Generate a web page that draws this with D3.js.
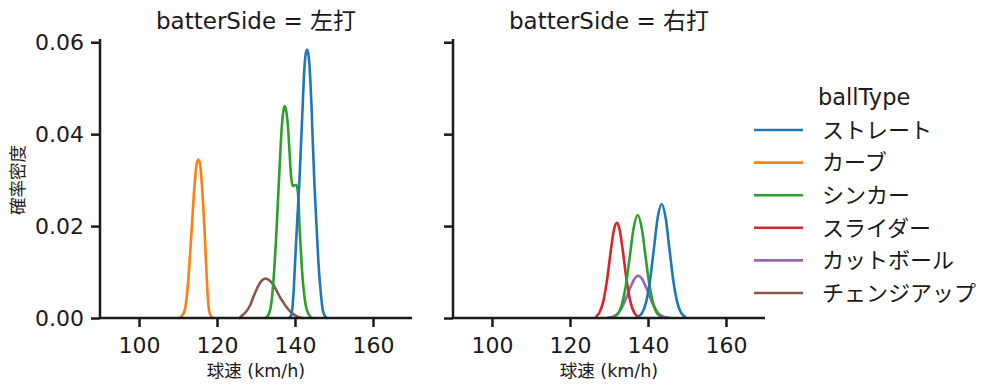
<!DOCTYPE html>
<html><head><meta charset="utf-8">
<script src="https://cdn.jsdelivr.net/npm/d3@7"></script>
<style>
html,body{margin:0;padding:0;background:#fff;}
svg text{font-family:"DejaVu Sans","Noto Sans CJK JP",sans-serif;fill:#1a1a1a;}
</style></head>
<body><svg id="c" width="999" height="391"></svg>
<script>
// ---- data (speed km/h, density) ----
const categories = ["ストレート","カーブ","シンカー","スライダー","カットボール","チェンジアップ"];
const colors = ["#1f77b4","#ff7f0e","#2ca02c","#d62728","#9467bd","#8c564b"];
const panels = ["左打","右打"];
const xTicks = [100,120,140,160];
const yTicks = [0,0.02,0.04,0.06];

const leftStraight = [[138.5,0],[139.08,0.0007],[139.67,0.0061],[140.05,0.0126],[140.51,0.0202],[141.08,0.0289],[141.59,0.0387],[141.97,0.0463],[142.31,0.0528],[142.67,0.0570],[143.08,0.0584],[143.49,0.0570],[143.87,0.0528],[144.23,0.0463],[144.54,0.0387],[145.0,0.0289],[145.51,0.0202],[145.97,0.0126],[146.54,0.0061],[147.23,0.0013],[148.13,0]];
const leftCurve = [[110.3,0],[110.87,0.0003],[111.72,0.0017],[112.56,0.0075],[113.44,0.0184],[114.28,0.0293],[114.75,0.0333],[115.2,0.0345],[115.7,0.0333],[116.1,0.0293],[116.85,0.0184],[117.44,0.0075],[117.95,0.0017],[118.56,0.0003],[119.0,0]];
const leftSinker = [[132.49,0],[133.26,0.0008],[134.03,0.0039],[134.67,0.0104],[135.13,0.0170],[135.56,0.0242],[136.08,0.0333],[136.59,0.0413],[136.97,0.0448],[137.36,0.0461],[137.79,0.0448],[138.21,0.0415],[138.64,0.0354],[138.97,0.0311],[139.41,0.0287],[139.87,0.0289],[140.31,0.0290],[140.77,0.0272],[141.21,0.0191],[141.64,0.0126],[142.10,0.0072],[142.74,0.0028],[143.51,0.0008],[144.28,0]];
const leftChangeup = [[125.8,0],[126.67,0.0007],[127.5,0.0014],[128.4,0.0026],[129.3,0.0045],[130.2,0.0063],[131.0,0.0076],[131.7,0.0083],[132.4,0.0086],[133.4,0.0082],[134.4,0.0073],[135.3,0.0059],[136.1,0.0046],[137.0,0.0034],[137.8,0.0024],[138.7,0.0015],[139.5,0.0009],[140.4,0.0004],[141.2,0.0001],[142.0,0]];

const rightStraight = [[137.5,0.0003],[138.5,0.0011],[139.5,0.0034],[140.5,0.0081],[141.5,0.0150],[142.5,0.0219],[143.5,0.0248],[144.5,0.0219],[145.5,0.0150],[146.5,0.0081],[147.5,0.0034],[148.5,0.0011],[149.5,0.0003]];
const rightSinker = [[131.4,0.0003],[132.3,0.0009],[133.3,0.0029],[134.3,0.0070],[135.3,0.0132],[136.3,0.0195],[137.35,0.0224],[138.4,0.0195],[139.4,0.0132],[140.4,0.0070],[141.4,0.0029],[142.4,0.0009],[143.3,0.0003]];
const rightSlider = [[126.8,0.0004],[127.5,0.0011],[128.5,0.0035],[129.5,0.0083],[130.5,0.0149],[131.3,0.0193],[132.0,0.0207],[132.7,0.0193],[133.5,0.0149],[134.5,0.0083],[135.5,0.0035],[136.5,0.0011],[137.2,0.0004]];
const rightCutter = [[129.8,0.0001],[131.0,0.0003],[132.5,0.0012],[134.0,0.0035],[135.5,0.0067],[136.5,0.0085],[137.5,0.0092],[138.5,0.0085],[139.5,0.0067],[141.0,0.0035],[142.5,0.0012],[144.0,0.0003],[145.2,0.0001]];

const seriesByPanel = [
  [{k:5,d:leftChangeup},{k:2,d:leftSinker},{k:1,d:leftCurve},{k:0,d:leftStraight}],
  [{k:4,d:rightCutter},{k:3,d:rightSlider},{k:2,d:rightSinker},{k:0,d:rightStraight}]
];

// ---- layout ----
const svg = d3.select("#c");
const ink = "#1a1a1a";
const panelX = [[100,412],[453,765]];
const yTop = 39, yBot = 318;
const y = d3.scaleLinear().domain([0,0.0607]).range([yBot,yTop]);

panels.forEach((p,i)=>{
  const x = d3.scaleLinear().domain([90,170]).range(panelX[i]);
  const g = svg.append("g");
  const line = d3.line().x(d=>x(d[0])).y(d=>y(d[1])).curve(d3.curveMonotoneX);
  seriesByPanel[i].forEach(s=>{
    g.append("path").attr("d",line(s.d)).attr("fill","none")
     .attr("stroke",colors[s.k]).attr("stroke-width",2.6).attr("stroke-linejoin","round").attr("stroke-linecap","round");
  });
  const xa = g.append("g").attr("transform",`translate(0,${yBot})`)
    .call(d3.axisBottom(x).tickValues(xTicks).tickSize(9).tickPadding(10).tickFormat(d3.format("d")));
  xa.select(".domain").attr("stroke",ink).attr("stroke-width",2.5).attr("d",`M${panelX[i][0]},0H${panelX[i][1]}`);
  xa.selectAll(".tick line").attr("stroke",ink).attr("stroke-width",2.5);
  xa.selectAll(".tick text").attr("font-size",22).style("fill",ink).attr("dy","0.71em");
  const ya = g.append("g").attr("transform",`translate(${panelX[i][0]},0)`)
    .call(d3.axisLeft(y).tickValues(yTicks).tickSize(9).tickPadding(7).tickFormat(i===0?d3.format(".2f"):()=>""));
  ya.select(".domain").attr("stroke",ink).attr("stroke-width",2.5).attr("d",`M0,${yTop}V${yBot}`);
  ya.selectAll(".tick line").attr("stroke",ink).attr("stroke-width",2.5);
  ya.selectAll(".tick text").attr("font-size",22).style("fill",ink);
  const cx = (panelX[i][0]+panelX[i][1])/2;
  svg.append("text").attr("x",cx).attr("y",29).attr("text-anchor","middle").attr("font-size",23)
    .text(`batterSide = ${p}`);
  svg.append("text").attr("x",cx).attr("y",377).attr("text-anchor","middle").attr("font-size",17.5)
    .text("球速 (km/h)");
});
svg.append("text").attr("transform","translate(24,180) rotate(-90)").attr("text-anchor","middle")
  .attr("font-size",17.5).text("確率密度");

svg.append("text").attr("x",818).attr("y",105).attr("font-size",22.5).text("ballType");
categories.forEach((c,i)=>{
  const yy = 130 + i*32.6;
  svg.append("line").attr("x1",754).attr("x2",803).attr("y1",yy).attr("y2",yy)
    .attr("stroke",colors[i]).attr("stroke-width",2.6);
  svg.append("text").attr("x",822).attr("y",yy).attr("dy","0.35em").attr("font-size",22).text(c);
});
</script>
</body></html>
